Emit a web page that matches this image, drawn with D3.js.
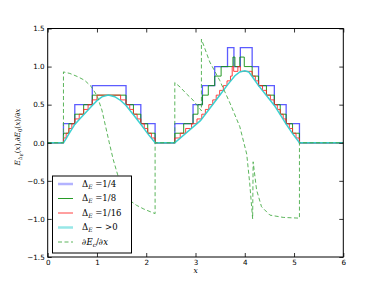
<!DOCTYPE html>
<html>
<head>
<meta charset="utf-8">
<script src="https://d3js.org/d3.v7.min.js"></script>
<style>body{margin:0;background:#fff}</style>
</head>
<body>
<div id="chart"></div>
<script>
// staircase E_Delta(x): x breakpoints and the level held until the next one
var quarterX = [0, 0.32, 0.55, 0.905, 1.59, 1.89, 2.18, 2.58, 2.95, 3.14, 3.39, 3.65, 3.78, 3.91, 4.15, 4.28, 4.60, 4.84, 5.11, 6];
var quarterY = [0, 0.25, 0.5, 0.75, 0.5, 0.25, 0, 0.25, 0.5, 0.75, 1.0, 1.25, 1.0, 1.25, 1.0, 0.75, 0.5, 0.25, 0];

var eighthX = [0, 0.32, 0.43, 0.55, 0.73, 0.905, 1.59, 1.74, 1.89, 2.03, 2.18,
               2.58, 2.76, 2.95, 3.05, 3.14, 3.26, 3.39, 3.52, 3.76, 3.80, 3.90, 3.99, 4.15,
               4.28, 4.44, 4.60, 4.72, 4.84, 4.97, 5.11, 6];
var eighthY = [0, 0.125, 0.25, 0.375, 0.5, 0.625, 0.5, 0.375, 0.25, 0.125, 0,
               0.125, 0.25, 0.375, 0.5, 0.625, 0.75, 0.875, 1.0, 1.125, 1.0, 1.125, 1.0,
               0.875, 0.75, 0.625, 0.5, 0.375, 0.25, 0.125, 0];

var sixteenthX = [0, 0.32, 0.375, 0.43, 0.49, 0.55, 0.64, 0.73, 0.82, 0.905, 1.0, 1.48, 1.59,
                  1.665, 1.74, 1.815, 1.89, 1.96, 2.03, 2.105, 2.18,
                  2.58, 2.69, 2.80, 2.92, 3.03, 3.127, 3.20, 3.27, 3.35, 3.42, 3.49, 3.565, 3.64,
                  3.71, 3.745, 3.775, 3.86, 3.91, 4.15, 4.215, 4.28, 4.36, 4.44, 4.52,
                  4.60, 4.66, 4.72, 4.78, 4.84, 4.905, 4.97, 5.04, 5.11, 6];
var sixteenthY = [0, 0.0625, 0.125, 0.1875, 0.25, 0.3125, 0.375, 0.4375, 0.5, 0.5625, 0.625, 0.5625,
                  0.5, 0.4375, 0.375, 0.3125, 0.25, 0.1875, 0.125, 0.0625, 0,
                  0.0625, 0.125, 0.1875, 0.25, 0.3125, 0.375, 0.4375, 0.5, 0.5625, 0.625, 0.6875, 0.75,
                  0.8125, 0.875, 1.0, 0.9375, 1.0, 0.9375, 0.875, 0.8125, 0.75, 0.6875,
                  0.625, 0.5625, 0.5, 0.4375, 0.375, 0.3125, 0.25, 0.1875, 0.125, 0.0625, 0];

// limit Delta_E -> 0
var e0X = [0, 0.32, 0.375, 0.43, 0.49, 0.55, 0.64, 0.73, 0.82, 0.905, 1.0, 1.1, 1.23, 1.36, 1.48, 1.59,
           1.74, 1.89, 2.03, 2.18,
           2.58, 3.1, 3.3, 3.5, 3.65, 3.8, 3.9, 4.0, 4.08, 4.15, 4.28, 4.44, 4.6, 4.72, 4.84, 4.97, 5.11, 6];
var e0Y = [0, 0, 0.055, 0.115, 0.178, 0.24, 0.305, 0.367, 0.43, 0.49, 0.553, 0.603, 0.627, 0.605, 0.555, 0.49,
           0.368, 0.243, 0.12, 0,
           0, 0.29, 0.46, 0.63, 0.76, 0.88, 0.93, 0.945, 0.93, 0.87, 0.75, 0.62, 0.49, 0.37, 0.245, 0.12, 0, 0];

// dE_c/dx
var dEX = [0, 0.32, 0.32, 0.45, 0.6, 0.75, 0.88, 1.0, 1.1, 1.18, 1.25, 1.33, 1.42, 1.52, 1.65, 1.8, 1.95, 2.1, 2.18, 2.18,
           2.58, 2.58, 2.69, 2.82, 2.95, 3.12, 3.12, 3.29, 3.49, 3.70, 3.90, 4.04, 4.10, 4.16,
           4.17, 4.24, 4.34, 4.51, 4.78, 5.11, 5.11, 6];
var dEY = [0, 0, 0.93, 0.91, 0.87, 0.82, 0.74, 0.62, 0.43, 0.2, 0, -0.22, -0.42, -0.62, -0.75, -0.82, -0.87, -0.91, -0.93, 0,
           0, 0.79, 0.73, 0.64, 0.56, 0.42, 1.36, 1.06, 0.82, 0.52, 0.21, -0.15, -0.53, -1.0,
           -0.25, -0.62, -0.84, -0.95, -0.98, -0.99, 0, 0];

var xTicks = [0, 1, 2, 3, 4, 5, 6];
var yTicks = [-1.5, -1.0, -0.5, 0.0, 0.5, 1.0, 1.5];
var legendFracs = ["1/4", "1/8", "1/16"];

var width = 382, height = 286;
var svg = d3.select("#chart").append("svg")
    .attr("width", width).attr("height", height)
    .style("background", "#fff");

var x = d3.scaleLinear().domain([0, 6]).range([47.7, 343.3]);
var y = d3.scaleLinear().domain([-1.5, 1.5]).range([257, 28.5]);

svg.append("clipPath").attr("id", "clip")
    .append("rect").attr("x", x(0)).attr("y", y(1.5))
    .attr("width", x(6) - x(0)).attr("height", y(-1.5) - y(1.5));

var plot = svg.append("g").attr("clip-path", "url(#clip)");

var stepLine = d3.line().x(function(d){ return x(d[0]); }).y(function(d){ return y(d[1]); }).curve(d3.curveStepAfter);
var plainLine = d3.line().x(function(d){ return x(d[0]); }).y(function(d){ return y(d[1]); });

function steps(xs, ys){
    return xs.map(function(v, i){ return [v, ys[Math.min(i, ys.length - 1)]]; });
}
function pairs(xs, ys){
    return xs.map(function(v, i){ return [v, ys[i]]; });
}

var styles = [
    {color: "#4040ff", w: 1.3, op: 0.85, lw: 2.5, lop: 0.4},
    {color: "#109010", w: 1, op: 0.9, lw: 1, lop: 0.9},
    {color: "#ff2020", w: 1, op: 0.85, lw: 1, lop: 0.85},
    {color: "#30d0d0", w: 1.5, op: 0.95, lw: 2.5, lop: 0.5},
    {color: "#40a840", w: 1, op: 0.85, lw: 1, lop: 0.85, dash: "4,2.5"}
];

plot.append("path").attr("d", stepLine(steps(quarterX, quarterY)))
    .attr("fill", "none").attr("stroke", styles[0].color).attr("stroke-width", styles[0].w).attr("stroke-opacity", styles[0].op);
plot.append("path").attr("d", stepLine(steps(eighthX, eighthY)))
    .attr("fill", "none").attr("stroke", styles[1].color).attr("stroke-width", styles[1].w).attr("stroke-opacity", styles[1].op);
plot.append("path").attr("d", stepLine(steps(sixteenthX, sixteenthY)))
    .attr("fill", "none").attr("stroke", styles[2].color).attr("stroke-width", styles[2].w).attr("stroke-opacity", styles[2].op);
plot.append("path").attr("d", plainLine(pairs(e0X, e0Y)))
    .attr("fill", "none").attr("stroke", styles[3].color).attr("stroke-width", styles[3].w).attr("stroke-opacity", styles[3].op);
plot.append("path").attr("d", plainLine(pairs(dEX, dEY)))
    .attr("fill", "none").attr("stroke", styles[4].color).attr("stroke-width", styles[4].w).attr("stroke-opacity", styles[4].op)
    .attr("stroke-dasharray", styles[4].dash);

// axes, ticks pointing inward on all four sides
var fmt = d3.format(".1f");
function styleAxis(g){
    g.select(".domain").remove();
    g.selectAll("line").attr("stroke", "#000").attr("stroke-width", 0.8);
    g.selectAll("text").attr("font-family", "DejaVu Sans").attr("font-size", 7.2).attr("fill", "#000");
}
svg.append("g").attr("transform", "translate(0," + y(-1.5) + ")")
    .call(d3.axisBottom(x).tickValues(xTicks).tickSizeInner(-4).tickSizeOuter(0).tickPadding(3).tickFormat(d3.format("d")))
    .call(styleAxis);
svg.append("g").attr("transform", "translate(0," + y(1.5) + ")")
    .call(d3.axisTop(x).tickValues(xTicks).tickSizeInner(-4).tickSizeOuter(0).tickFormat(""))
    .call(styleAxis);
svg.append("g").attr("transform", "translate(" + x(0) + ",0)")
    .call(d3.axisLeft(y).tickValues(yTicks).tickSizeInner(-4).tickSizeOuter(0).tickPadding(3).tickFormat(fmt))
    .call(styleAxis);
svg.append("g").attr("transform", "translate(" + x(6) + ",0)")
    .call(d3.axisRight(y).tickValues(yTicks).tickSizeInner(-4).tickSizeOuter(0).tickFormat(""))
    .call(styleAxis);

svg.append("rect").attr("x", x(0)).attr("y", y(1.5))
    .attr("width", x(6) - x(0)).attr("height", y(-1.5) - y(1.5))
    .attr("fill", "none").attr("stroke", "#000").attr("stroke-width", 1);

// axis labels
var mathFont = "DejaVu Serif";
svg.append("text").attr("x", x(3)).attr("y", 273)
    .attr("text-anchor", "middle").attr("font-family", mathFont).attr("font-style", "italic")
    .attr("font-size", 7.5).text("x");

var yl = svg.append("text").attr("transform", "translate(20,137) rotate(-90)")
    .attr("text-anchor", "middle").attr("font-family", mathFont).attr("font-size", 7.3);
yl.append("tspan").attr("font-style", "italic").text("E");
yl.append("tspan").attr("font-size", 5.3).attr("dy", 2).text("Δ");
yl.append("tspan").attr("font-size", 4.1).attr("font-style", "italic").attr("dy", 1.1).text("E");
yl.append("tspan").attr("dy", -3.1).text("(");
yl.append("tspan").attr("font-style", "italic").text("x");
yl.append("tspan").text("),∂");
yl.append("tspan").attr("font-style", "italic").text("E");
yl.append("tspan").attr("font-size", 5.3).attr("dy", 2).text("0");
yl.append("tspan").attr("dy", -2).text("(");
yl.append("tspan").attr("font-style", "italic").text("x");
yl.append("tspan").text(")/∂");
yl.append("tspan").attr("font-style", "italic").text("x");

// legend
var lg = svg.append("g");
lg.append("rect").attr("x", 52.5).attr("y", 176).attr("width", 79).attr("height", 77)
    .attr("fill", "#fff").attr("stroke", "#000").attr("stroke-width", 1);
var rowY = [184, 198.5, 213, 227.5, 242];
rowY.forEach(function(ry, i){
    var s = styles[i];
    lg.append("line").attr("x1", 58).attr("x2", 73).attr("y1", ry).attr("y2", ry)
        .attr("stroke", s.color).attr("stroke-width", s.lw).attr("stroke-opacity", s.lop)
        .attr("stroke-dasharray", s.dash || null);
    var t = lg.append("text").attr("x", 82).attr("y", ry + 2.8)
        .attr("font-family", mathFont).attr("font-size", 8.5);
    if (i < 4) {
        t.append("tspan").text("Δ");
        t.append("tspan").attr("font-size", 6).attr("font-style", "italic").attr("dy", 1.8).text("E");
        t.append("tspan").attr("dy", -1.8).text(i < 3 ? " =" + legendFracs[i] : " \u2212 >0");
    } else {
        t.append("tspan").text("∂");
        t.append("tspan").attr("font-style", "italic").text("E");
        t.append("tspan").attr("font-size", 6).attr("font-style", "italic").attr("dy", 1.8).text("c");
        t.append("tspan").attr("dy", -1.8).text("/∂");
        t.append("tspan").attr("font-style", "italic").text("x");
    }
});
</script>
</body>
</html>
